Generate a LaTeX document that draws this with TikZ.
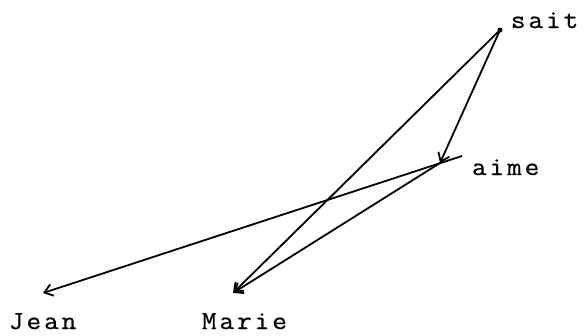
\documentclass[tikz,border=0pt]{standalone}
\usepackage{fontspec}
\usepackage{tikz}
\usetikzlibrary{arrows.meta}
\newfontfamily\typo[FakeStretch=1.1, LetterSpace=11, FakeBold=0.6]{Latin Modern Mono}
\tikzset{word/.style={anchor=base west, inner sep=0pt, font=\fontsize{26}{26}\selectfont\typo}}

\begin{document}
\begin{tikzpicture}[x=1pt, y=-1pt, >={Straight Barb[length=8pt,width=12pt]}, line width=1.8pt]
    \useasboundingbox (0,0) rectangle (584,335);

    \coordinate (sait) at (500,30);
    \coordinate (aime) at (440,163);
    \coordinate (tail) at (462,156);
    \coordinate (jean) at (43,293);
    \coordinate (marie) at (233,293);

    \node[word] (lsait) at (510,28) {sait};
    \node[word] (laime) at (471,175) {aime};
    \node[word] (ljean) at (8,329) {Jean};
    \node[word] (lmarie) at (201,329) {Marie};

    \fill (sait) circle (2.5pt);
    \draw[->] (sait) -- (aime);
    \draw[->] (sait) -- (marie);
    \draw[->] (tail) -- (jean);
    \draw[->] (aime) -- (marie);
\end{tikzpicture}
\end{document}
